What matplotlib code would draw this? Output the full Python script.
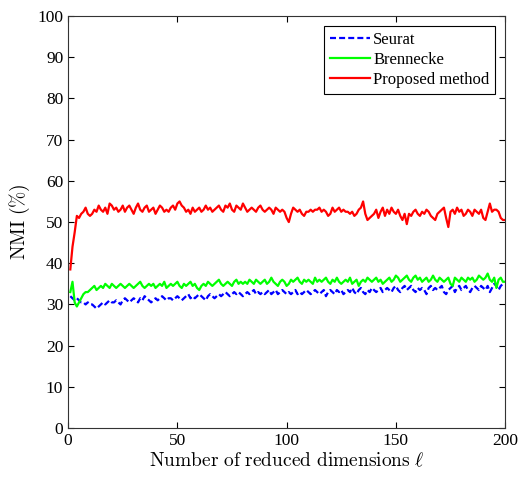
import numpy as np
import matplotlib
matplotlib.use("Agg")
import matplotlib.pyplot as plt

plt.rcParams['font.family'] = ['Liberation Serif', 'DejaVu Serif']
plt.rcParams['mathtext.fontset'] = 'cm'

# number of reduced dimensions
dims = np.arange(1, 201)

# NMI (%), one value per dimension
proposed = [
    38.5, 44.0, 47.5, 51.5, 51.0, 52.0, 52.5, 53.5, 52.0, 51.5, 52.0, 53.0, 52.5, 54.0, 53.0, 52.5, 53.5, 52.0, 54.5, 54.0,
    53.0, 53.5, 52.5, 53.0, 54.0, 52.5, 53.5, 54.0, 53.0, 52.0, 53.5, 54.5, 53.0, 52.5, 53.5, 54.0, 52.5, 53.0, 53.5, 52.0,
    53.0, 54.0, 53.5, 52.5, 53.0, 52.5, 53.5, 54.0, 53.0, 54.5, 55.0, 54.0, 53.5, 52.5, 53.0, 52.0, 53.5, 52.5, 53.0, 53.5,
    52.5, 53.0, 54.0, 53.0, 53.5, 52.5, 53.0, 53.5, 54.0, 53.0, 52.5, 54.0, 53.5, 54.5, 53.0, 52.5, 54.0, 53.5, 53.0, 54.5,
    53.5, 52.5, 53.0, 53.5, 53.0, 52.5, 53.5, 54.0, 53.0, 52.5, 53.0, 53.5, 53.0, 52.0, 53.5, 53.0, 52.5, 53.0, 52.5, 51.0,
    50.0, 52.0, 53.5, 53.0, 52.5, 53.0, 52.0, 51.5, 52.5, 52.5, 53.0, 52.5, 53.0, 53.0, 53.5, 52.5, 53.0, 52.5, 51.5, 52.0,
    53.5, 52.5, 53.0, 53.5, 52.5, 53.0, 52.5, 52.5, 52.0, 52.5, 51.5, 52.0, 53.0, 53.5, 55.0, 52.0, 50.5, 51.0, 51.5, 52.0,
    53.0, 51.0, 52.5, 53.5, 51.5, 53.0, 52.0, 53.5, 52.5, 52.0, 53.0, 51.5, 50.5, 52.0, 49.5, 52.0, 51.5, 52.5, 53.0, 52.0,
    51.5, 52.5, 52.0, 53.0, 52.5, 51.5, 51.0, 50.5, 52.0, 52.5, 53.0, 53.5, 51.0, 48.8, 52.5, 53.0, 52.0, 53.5, 52.5, 53.0,
    51.5, 52.0, 53.0, 52.5, 51.5, 53.0, 52.5, 52.0, 53.0, 51.0, 50.5, 52.5, 54.5, 52.5, 53.0, 53.0, 52.5, 51.0, 50.5, 50.5,
]

brennecke = [
    33.0, 35.5, 30.5, 29.5, 30.5, 31.5, 32.5, 33.0, 33.0, 33.5, 34.0, 34.5, 33.5, 34.0, 34.5, 34.0, 35.0, 34.5, 34.0, 35.0,
    34.5, 34.0, 34.5, 35.0, 34.5, 34.0, 34.5, 35.0, 34.5, 34.0, 34.5, 35.0, 35.5, 34.5, 34.0, 34.5, 35.0, 34.5, 35.0, 34.0,
    34.5, 35.0, 34.5, 35.5, 34.0, 34.5, 35.0, 34.5, 35.0, 35.5, 34.5, 34.0, 35.0, 34.5, 35.0, 35.5, 34.5, 35.0, 34.0, 33.5,
    34.5, 35.0, 34.5, 35.5, 35.0, 34.5, 35.0, 35.5, 36.0, 35.0, 34.5, 35.0, 35.5, 35.0, 34.5, 35.5, 36.0, 35.0, 35.5, 35.0,
    35.5, 35.0, 36.0, 35.5, 35.0, 36.0, 35.5, 35.0, 35.5, 36.0, 35.0, 35.5, 36.5, 35.5, 35.0, 34.5, 35.5, 36.0, 35.5, 34.5,
    35.0, 36.0, 35.5, 36.0, 36.5, 35.5, 35.0, 36.0, 35.5, 36.0, 35.5, 35.0, 36.5, 35.5, 36.0, 35.5, 36.0, 36.5, 35.5, 35.0,
    36.0, 35.5, 36.5, 35.5, 35.0, 35.5, 36.0, 35.5, 36.5, 35.0, 35.5, 36.0, 34.5, 35.5, 36.0, 35.5, 36.5, 36.0, 35.5, 36.0,
    36.5, 35.5, 36.0, 35.0, 35.5, 36.0, 36.5, 35.5, 36.0, 37.0, 36.5, 35.5, 36.0, 36.5, 37.0, 36.0, 35.5, 36.5, 37.0, 36.0,
    36.5, 35.5, 36.0, 36.5, 35.5, 36.0, 37.0, 36.0, 35.5, 36.5, 36.0, 35.5, 36.0, 36.5, 35.0, 34.5, 36.5, 36.0, 35.5, 36.5,
    36.0, 35.5, 36.5, 36.0, 36.5, 35.5, 36.0, 37.0, 36.5, 36.0, 36.5, 37.5, 36.0, 35.5, 36.5, 34.0, 36.0, 36.5, 35.5, 35.5,
]

seurat = [
    32.0, 31.5, 31.0, 31.5, 31.0, 30.5, 30.5, 30.0, 30.5, 30.0, 30.0, 29.5, 29.0, 29.5, 30.0, 30.5, 30.0, 30.5, 31.0, 30.5,
    30.5, 31.0, 30.5, 30.0, 31.0, 31.5, 31.0, 30.5, 31.0, 31.5, 31.0, 30.5, 31.5, 31.0, 32.0, 31.5, 31.0, 30.5, 31.0, 31.5,
    31.0, 31.5, 32.0, 31.5, 31.0, 31.5, 31.5, 31.0, 31.5, 32.0, 31.5, 31.0, 31.5, 32.0, 32.5, 31.5, 32.0, 31.5, 32.0, 32.5,
    32.0, 31.5, 31.0, 32.0, 32.5, 32.0, 31.5, 32.0, 32.5, 32.0, 32.5, 33.0, 32.5, 32.0, 32.5, 33.0, 32.5, 33.0, 32.5, 32.0,
    32.5, 33.0, 32.5, 33.0, 33.5, 32.5, 33.0, 32.5, 33.0, 32.5, 33.0, 33.5, 32.5, 33.0, 33.5, 32.5, 33.0, 33.5, 33.0, 32.5,
    33.0, 32.5, 33.0, 33.5, 32.5, 33.0, 32.5, 33.0, 33.5, 33.0, 32.5, 33.0, 33.5, 33.0, 32.5, 33.0, 33.5, 32.0, 33.0, 33.5,
    33.0, 32.5, 33.5, 33.0, 33.5, 32.5, 33.0, 33.5, 33.0, 34.0, 33.0, 32.5, 33.5, 34.0, 33.0, 32.5, 33.5, 33.0, 34.0, 33.5,
    33.0, 33.5, 34.0, 33.0, 33.5, 34.0, 33.5, 33.0, 34.0, 34.5, 33.5, 33.0, 34.0, 34.5, 33.5, 34.0, 34.5, 33.5, 33.0, 34.0,
    33.5, 34.0, 33.5, 32.5, 34.0, 34.5, 33.5, 34.0, 33.5, 34.0, 34.5, 33.0, 32.5, 33.5, 34.0, 34.5, 33.0, 34.0, 34.5, 33.5,
    34.0, 34.5, 33.5, 33.0, 34.0, 34.5, 34.0, 33.5, 34.5, 34.0, 33.5, 34.5, 33.0, 34.0, 35.0, 34.5, 33.5, 34.5, 35.0, 35.0,
]

fig = plt.figure(figsize=(5.24, 4.84), dpi=100)
ax = fig.add_axes([0.130, 0.1157, 0.834, 0.851])

ax.plot(dims, seurat, color='#0000ff', linestyle=(0, (2.7, 1.4)), linewidth=1.6, label='Seurat')
ax.plot(dims, brennecke, color='#00ff00', linewidth=1.6, label='Brennecke')
ax.plot(dims, proposed, color='#ff0000', linewidth=1.6, label='Proposed method')

ax.set_xlim(0, 200)
ax.set_ylim(0, 100)
ax.set_xticks([0, 50, 100, 150, 200])
ax.set_yticks(np.arange(0, 101, 10))
ax.tick_params(direction='in', top=True, right=True, labelsize=12.5, length=4)
for s in ax.spines.values():
    s.set_linewidth(0.8)
    s.set_color('#333333')

ax.set_xlabel(r'$\mathrm{Number\ of\ reduced\ dimensions}\ \ell$', fontsize=14, labelpad=2)
ax.set_ylabel(r'$\mathrm{NMI\ (\%)}$', fontsize=14, labelpad=4)

leg = ax.legend(loc='upper right', fontsize=12, fancybox=False, edgecolor='black',
                framealpha=1, handlelength=2.4, borderaxespad=0.6, labelspacing=0.25,
                handletextpad=0.2, borderpad=0.35)
leg.get_frame().set_linewidth(0.8)

fig.savefig('out.png', dpi=100)
